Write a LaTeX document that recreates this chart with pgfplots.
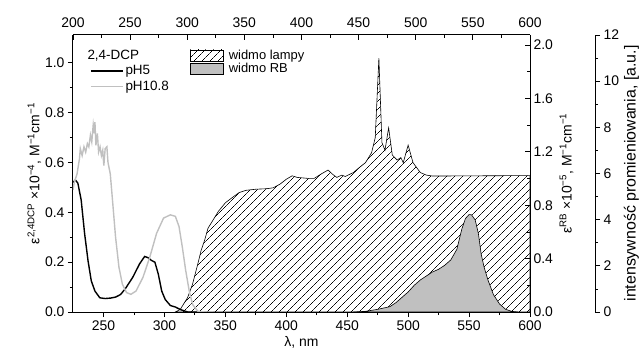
\documentclass[border=0pt]{standalone}
\usepackage{fontspec}
\setmainfont{Liberation Sans}
\usepackage{pgfplots}
\pgfplotsset{compat=1.18}
\usetikzlibrary{patterns.meta}

\definecolor{grayline}{RGB}{192,192,192}
\definecolor{rbfill}{RGB}{192,192,192}

\pgfplotsset{
  every non boxed x axis/.style={},
  every non boxed y axis/.style={},
  common/.style={
    scale only axis, width=457bp, height=277bp,
    at={(0,0)}, anchor=south west,
    xmin=225, xmax=600,
    axis line style={-, line width=1bp},
    every tick/.style={black, line width=0.8bp},
    major tick length=5bp, minor tick length=3bp,
    tick label style={font=\fontsize{14}{16}\selectfont},
    /pgf/number format/assume math mode=true,
  },
  hatch/.style={pattern={Lines[angle=45,distance=6bp,line width=0.6bp]}},
}

\begin{document}
\begin{tikzpicture}
% lamp spectrum (third axis units, 0-12)
\begin{axis}[common, hide axis, ymin=0, ymax=12]
\addplot[draw=black, line width=0.6bp, hatch] coordinates {
(309,0) (313,0.11) (319,0.62) (323,1.19) (327.4,2.08) (330.2,2.68) (333,3.11)
(335.8,3.63) (340,3.99) (344.3,4.36) (350,4.73) (355.5,4.95) (361.2,5.17)
(366.8,5.27) (375.2,5.32) (383.7,5.34) (389.3,5.38) (394.9,5.54) (400,5.75)
(404.8,5.90) (409,5.83) (417.5,5.79) (423,5.79) (428.7,5.98) (434.3,6.15)
(437.7,5.98) (441.4,5.83) (445.6,5.93) (448.4,5.87) (455,6.04) (460,6.26)
(465,6.47) (470,6.9) (473,7.55) (476,11.0) (478.5,7.34) (481,7.01) (484,7.98)
(487,6.80) (491,6.58) (494,6.69) (496,6.47) (500,7.23) (504,6.47) (510,6.04)
(515,5.93) (520,5.89) (600,5.91)
} \closedcycle;
\end{axis}
% RB absorption (right axis)
\begin{axis}[common, ymin=0, ymax=2.075, axis y line=right, hide x axis,
  ytick={0,0.4,0.8,1.2,1.6,2.0}, minor y tick num=1, tick align=inside,
  yticklabel style={/pgf/number format/.cd, fixed, fixed zerofill, precision=1},
  ylabel={ε\textsuperscript{RB} ×10\textsuperscript{−5}, M\textsuperscript{−1}cm\textsuperscript{−1}},
  ylabel style={font=\fontsize{14}{16}\selectfont},
  legend image code/.code={\draw[#1] (0bp,-5.5bp) rectangle (33bp,5.5bp);},
  legend style={draw=none, fill=none, at={(0.256,0.95)}, anchor=north west,
    font=\fontsize{13}{14}\selectfont, row sep=0bp, inner sep=0pt,
    cells={anchor=west}, nodes={inner xsep=5bp, inner ysep=1bp}}]
\addlegendimage{draw=black, line width=0.6bp, hatch}
\addlegendentry{widmo lampy}
\addplot[draw=black, line width=0.6bp, fill=rbfill] coordinates {
(455,0) (465,0.005) (475,0.02) (485,0.04) (490,0.07) (495,0.11) (500,0.15)
(505,0.2) (510,0.24) (515,0.27) (520,0.3) (525,0.32) (530,0.35) (535,0.39)
(540,0.47) (544,0.62) (547,0.7) (550,0.73) (552,0.728) (555,0.69) (557.6,0.59)
(560,0.43) (562.5,0.33) (565.5,0.24) (570,0.13) (575,0.06) (580,0.02)
(585,0.005) (590,0)
} \closedcycle;
\addlegendentry{widmo RB}
\end{axis}
% third (offset) axis: lamp intensity
\begin{axis}[common, at={(65bp,0)}, hide x axis, axis y line=right,
  ymin=0, ymax=12, ytick={0,2,4,6,8,10,12}, minor y tick num=1, tick align=outside,
  ylabel={intensywność promieniowania, [a.u.]},
  ylabel style={font=\fontsize{16}{18}\selectfont}, ylabel shift=-2bp]
\end{axis}
% top axis
\begin{axis}[common, xmin=200, xmax=600, axis x line=top, hide y axis, ymin=0, ymax=1,
  xtick={200,250,...,600}, minor x tick num=1, tick align=inside,
  xticklabel style={yshift=4bp}]
\end{axis}
% main axis
\begin{axis}[common, ymin=0, ymax=1.112, axis x line=bottom, axis y line=left,
  tick align=outside,
  xtick={250,300,...,600}, minor x tick num=1,
  ytick={0,0.2,0.4,0.6,0.8,1.0}, minor y tick num=1,
  yticklabel style={/pgf/number format/.cd, fixed, fixed zerofill, precision=1},
  xlabel={λ, nm},
  ylabel={ε\textsuperscript{2,4DCP} ×10\textsuperscript{−4}, M\textsuperscript{−1}cm\textsuperscript{−1}},
  xlabel style={font=\fontsize{14}{16}\selectfont},
  ylabel style={font=\fontsize{14}{16}\selectfont},
  ylabel shift=-3bp, xlabel shift=-1bp,
  legend image code/.code={\draw[#1] (0bp,0bp) -- (32bp,0bp);},
  legend style={draw=none, fill=none, at={(0.037,0.955)}, anchor=north west,
    font=\fontsize{13.5}{15}\selectfont, row sep=1bp, inner sep=0pt, cells={anchor=west}}]
\addlegendimage{empty legend}
\addlegendentry{\hspace*{-38bp}2,4-DCP}
\addplot[black, line width=1.4bp] coordinates {
(225,0.52) (227,0.53) (229,0.517) (231.7,0.45) (234.5,0.316) (237.3,0.207)
(240,0.125) (243,0.084) (247,0.057) (251.4,0.054) (256,0.056) (260,0.06)
(264,0.07) (268,0.094) (274,0.139) (279.6,0.193) (283.8,0.223) (286.6,0.218)
(289.4,0.207) (292.2,0.2) (295,0.152) (297.8,0.084) (300.7,0.05) (304.9,0.026)
(309,0.02) (313,0.01) (319,0) (330,0)
};
\addlegendentry{pH5}
\addplot[grayline, line width=1.4bp] coordinates {
(225,0.49) (226,0.52) (228.3,0.554) (230.3,0.615) (231,0.656) (232.5,0.628)
(234,0.663) (235.4,0.642) (236.8,0.676) (238,0.663) (239.3,0.71) (240.4,0.683)
(241.6,0.751) (242.4,0.717) (243,0.762) (243.8,0.669) (245,0.717) (246,0.642)
(247.2,0.663) (248.3,0.628) (249.4,0.649) (250.3,0.588) (251.4,0.656)
(252.8,0.663) (253.7,0.601) (255.6,0.554) (257.6,0.438) (259.9,0.302)
(262.7,0.18) (265.5,0.112) (268.9,0.078) (272.5,0.071) (276.7,0.084)
(282.4,0.139) (288,0.22) (293.6,0.316) (299.3,0.377) (304.9,0.39) (309,0.384)
(312,0.343) (314.7,0.261) (317.5,0.166) (320.4,0.084) (323.2,0.03)
(327.4,0.003) (333,0) (340,0)
};
\addlegendentry{pH10.8}
\end{axis}
\pgfresetboundingbox
\path[use as bounding box] (-73bp,-42bp) rectangle (568bp,312bp);
\end{tikzpicture}
\end{document}
